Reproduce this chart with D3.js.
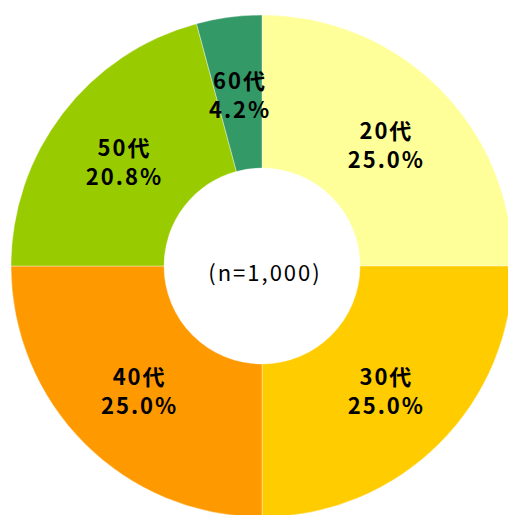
<!DOCTYPE html>
<html>
<head>
<meta charset="utf-8">
<script src="https://cdn.jsdelivr.net/npm/d3@7"></script>
<style>
  body { margin: 0; background: #fff; }
  svg text { font-family: "Noto Sans CJK JP", "Noto Sans", sans-serif; fill: #000; }
</style>
</head>
<body>
<svg id="chart" width="508" height="515"></svg>
<script>
const ageGroups = ['20代', '30代', '40代', '50代', '60代'];
const shares = [25.0, 25.0, 25.0, 20.8, 4.2];
const sliceColors = ['#ffff99', '#ffcc00', '#ff9900', '#99cc00', '#339966'];
const centerLabel = '(n=1,000)';

const cx = 262;
const cy = 266;
const outerR = 251;
const innerR = 98;

const data = ageGroups.map((g, i) => ({ group: g, value: shares[i], color: sliceColors[i] }));

const pie = d3.pie()
  .value(d => d.value)
  .sort(null);

const arc = d3.arc()
  .innerRadius(innerR)
  .outerRadius(outerR);

const svg = d3.select('#chart');
const g = svg.append('g')
  .attr('transform', `translate(${cx}, ${cy})`);

const slices = g.selectAll('g.slice')
  .data(pie(data))
  .enter()
  .append('g')
  .attr('class', 'slice');

slices.append('path')
  .attr('d', arc)
  .attr('fill', d => d.data.color)
  .attr('stroke', '#ffffff')
  .attr('stroke-opacity', 0.5)
  .attr('stroke-width', 0.75);

const labels = slices.append('text')
  .attr('transform', d => `translate(${arc.centroid(d)})`)
  .attr('text-anchor', 'middle')
  .style('font-size', '22px')
  .style('font-weight', 'bold')
  .style('letter-spacing', '2px');

labels.append('tspan')
  .attr('x', 1)
  .attr('y', -14)
  .attr('dominant-baseline', 'central')
  .text(d => d.data.group);

labels.append('tspan')
  .attr('x', 1)
  .attr('y', 15)
  .attr('dominant-baseline', 'central')
  .text(d => d.data.value.toFixed(1) + '%');

g.append('text')
  .attr('x', 3)
  .attr('y', 5)
  .attr('text-anchor', 'middle')
  .attr('dominant-baseline', 'central')
  .style('font-size', '22px')
  .style('letter-spacing', '2px')
  .text(centerLabel);
</script>
</body>
</html>
